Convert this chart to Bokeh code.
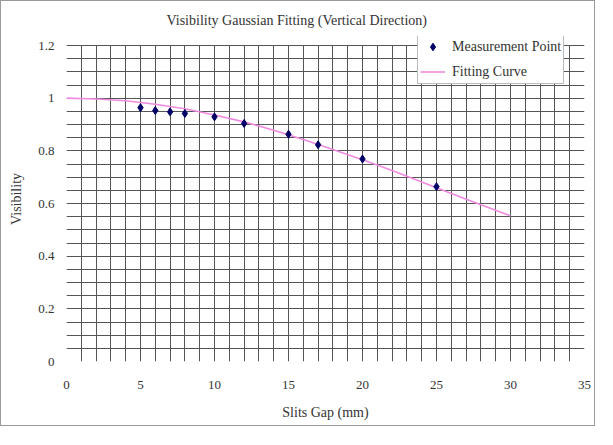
from bokeh.plotting import figure
from bokeh.models import FixedTicker, CustomJSTickFormatter, Range1d, Legend, LegendItem
from bokeh.embed import file_html
from bokeh.resources import INLINE

gap_mm = [5, 6, 7, 8, 10, 12, 15, 17, 20, 25]
visibility = [0.964, 0.953, 0.948, 0.942, 0.929, 0.904, 0.863, 0.823, 0.769, 0.664]

# Fitting curve samples
fit_x = [0, 2, 4, 6, 8, 10, 12, 14, 16, 18, 20, 22, 24, 26, 28, 30]
fit_y = [1.0, 0.997, 0.99, 0.977, 0.96, 0.936, 0.91, 0.878, 0.843, 0.805,
         0.766, 0.725, 0.682, 0.638, 0.595, 0.553]

x_ticks = [0, 5, 10, 15, 20, 25, 30, 35]
y_ticks = [0, 0.2, 0.4, 0.6, 0.8, 1.0, 1.2]
x_grid = list(range(0, 36))
y_grid = [round(i * 0.05, 2) for i in range(0, 25)]

FONT = "Liberation Serif"
TXT = "#333333"
GRID = "#555555"

# frame extends slightly above 1.2 so the legend (which pokes above the grid) is not clipped
p = figure(width=595, height=426, output_backend="svg", toolbar_location=None,
           x_range=Range1d(0, 35), y_range=Range1d(0, 1.2342),
           min_border_left=65, min_border_right=12, min_border_top=35,
           min_border_bottom=66)
p.styles = {"border": "1px solid #9a9a9a"}

p.title.text = "Visibility Gaussian Fitting (Vertical Direction)"
p.title.align = "left"
p.title.offset = 100
p.title.text_font = FONT
p.title.text_font_size = "14px"
p.title.text_font_style = "normal"
p.title.text_color = TXT
p.title.standoff = 18

p.outline_line_color = None
p.background_fill_color = "white"

p.xgrid.ticker = FixedTicker(ticks=x_grid)
p.ygrid.ticker = FixedTicker(ticks=y_grid)
for g in (p.xgrid, p.ygrid):
    g.grid_line_color = GRID
    g.grid_line_width = 1
    g.grid_line_alpha = 1.0
p.xgrid.cross_bounds = (0, 1.2)
p.ygrid.cross_bounds = (0, 35)

p.xaxis.ticker = FixedTicker(ticks=x_ticks)
p.yaxis.ticker = FixedTicker(ticks=y_ticks)
p.yaxis.formatter = CustomJSTickFormatter(code="return String(Math.round(tick*10)/10);")

for ax in (p.xaxis, p.yaxis):
    ax.axis_line_color = None
    ax.major_tick_line_color = None
    ax.minor_tick_line_color = None
    ax.major_tick_in = 0
    ax.major_tick_out = 0
    ax.minor_tick_in = 0
    ax.minor_tick_out = 0
    ax.major_label_text_font = FONT
    ax.major_label_text_font_size = "13px"
    ax.major_label_text_color = TXT
    ax.axis_label_text_font = FONT
    ax.axis_label_text_font_size = "14px"
    ax.axis_label_text_font_style = "normal"
    ax.axis_label_text_color = TXT

p.xaxis.axis_label = "Slits Gap (mm)"
p.yaxis.axis_label = "Visibility"
p.xaxis.major_label_standoff = 19
p.xaxis.axis_label_standoff = 13
p.yaxis.major_label_standoff = 12
p.yaxis.axis_label_standoff = 11

curve = p.line(fit_x, fit_y, line_color="#f08ae0", line_width=1.6)
pts = p.scatter(gap_mm, visibility, marker="diamond", size=8,
                fill_color="#000066", line_color="#000066")

legend = Legend(items=[LegendItem(label="Measurement Point", renderers=[pts]),
                       LegendItem(label="Fitting Curve", renderers=[curve])],
                location=(351, 277))
legend.label_text_font = FONT
legend.label_text_font_size = "14px"
legend.label_text_color = TXT
legend.border_line_color = "#777777"
legend.border_line_width = 1
legend.background_fill_color = "white"
legend.background_fill_alpha = 1.0
legend.padding = 2
legend.margin = 0
legend.spacing = 6
legend.label_height = 19
legend.glyph_height = 19
legend.glyph_width = 25
legend.label_standoff = 7
p.add_layout(legend, "center")

open("out.html", "w").write(file_html(p, INLINE))
